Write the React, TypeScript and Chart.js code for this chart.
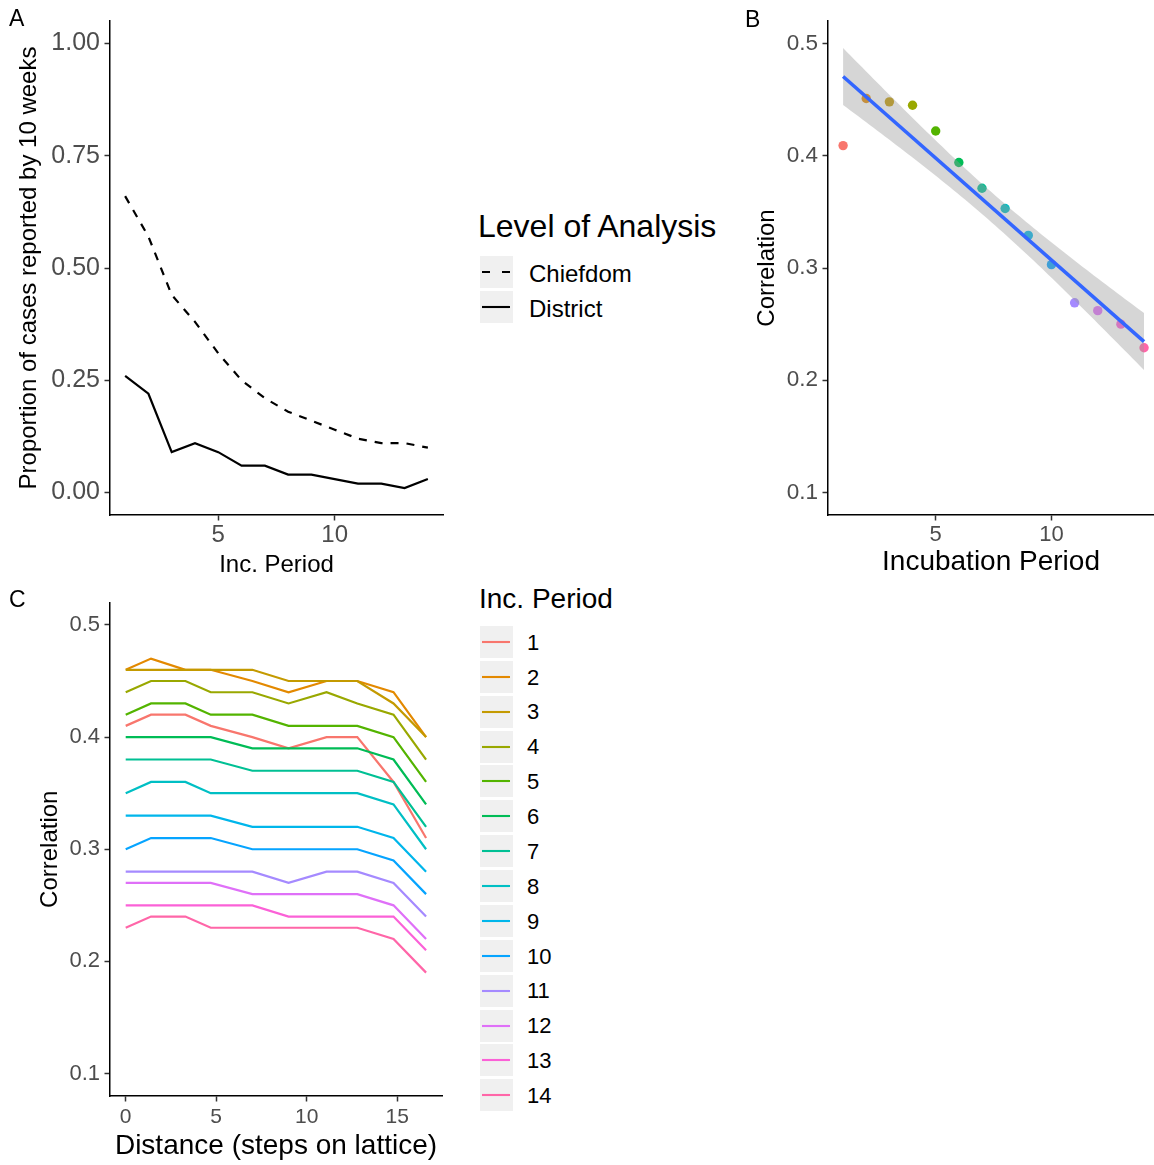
import React, { useEffect, useRef } from 'react';
import { Chart, registerables } from 'chart.js';

Chart.register(...registerables);

const FONT = '"Liberation Sans", Arial, Helvetica, sans-serif';

// ---------- Panel A ----------
const INC_PERIOD = [1, 2, 3, 4, 5, 6, 7, 8, 9, 10, 11, 12, 13, 14];
const CHIEFDOM = [0.66, 0.57, 0.44, 0.38, 0.31, 0.25, 0.21, 0.18, 0.16, 0.14, 0.12, 0.11, 0.11, 0.1];
const DISTRICT = [0.26, 0.22, 0.09, 0.11, 0.09, 0.06, 0.06, 0.04, 0.04, 0.03, 0.02, 0.02, 0.01, 0.03];
const A_Y_TICKS = [0, 0.25, 0.5, 0.75, 1.0];
const A_X_TICKS = [5, 10];

// ---------- Panel B ----------
const MEAN_CORRELATION = [0.409, 0.451, 0.448, 0.445, 0.422, 0.394, 0.371, 0.353, 0.329, 0.303, 0.269, 0.262, 0.25, 0.229];
const B_Y_TICKS = [0.1, 0.2, 0.3, 0.4, 0.5];
const B_X_TICKS = [5, 10];

// ---------- Panel C ----------
const DISTANCE = [0, 1.4, 3.3, 4.7, 7.0, 9.0, 11.1, 12.8, 14.8, 16.6];
const C_INC_1 = [0.41, 0.42, 0.42, 0.41, 0.40, 0.39, 0.40, 0.40, 0.36, 0.31];
const C_INC_2 = [0.46, 0.47, 0.46, 0.46, 0.45, 0.44, 0.45, 0.45, 0.44, 0.40];
const C_INC_3 = [0.46, 0.46, 0.46, 0.46, 0.46, 0.45, 0.45, 0.45, 0.43, 0.40];
const C_INC_4 = [0.44, 0.45, 0.45, 0.44, 0.44, 0.43, 0.44, 0.43, 0.42, 0.38];
const C_INC_5 = [0.42, 0.43, 0.43, 0.42, 0.42, 0.41, 0.41, 0.41, 0.40, 0.36];
const C_INC_6 = [0.40, 0.40, 0.40, 0.40, 0.39, 0.39, 0.39, 0.39, 0.38, 0.34];
const C_INC_7 = [0.38, 0.38, 0.38, 0.38, 0.37, 0.37, 0.37, 0.37, 0.36, 0.32];
const C_INC_8 = [0.35, 0.36, 0.36, 0.35, 0.35, 0.35, 0.35, 0.35, 0.34, 0.30];
const C_INC_9 = [0.33, 0.33, 0.33, 0.33, 0.32, 0.32, 0.32, 0.32, 0.31, 0.28];
const C_INC_10 = [0.30, 0.31, 0.31, 0.31, 0.30, 0.30, 0.30, 0.30, 0.29, 0.26];
const C_INC_11 = [0.28, 0.28, 0.28, 0.28, 0.28, 0.27, 0.28, 0.28, 0.27, 0.24];
const C_INC_12 = [0.27, 0.27, 0.27, 0.27, 0.26, 0.26, 0.26, 0.26, 0.25, 0.22];
const C_INC_13 = [0.25, 0.25, 0.25, 0.25, 0.25, 0.24, 0.24, 0.24, 0.24, 0.21];
const C_INC_14 = [0.23, 0.24, 0.24, 0.23, 0.23, 0.23, 0.23, 0.23, 0.22, 0.19];
const C_SERIES = [C_INC_1, C_INC_2, C_INC_3, C_INC_4, C_INC_5, C_INC_6, C_INC_7, C_INC_8, C_INC_9, C_INC_10, C_INC_11, C_INC_12, C_INC_13, C_INC_14];
const C_LABELS = ['1', '2', '3', '4', '5', '6', '7', '8', '9', '10', '11', '12', '13', '14'];
const C_Y_TICKS = [0.1, 0.2, 0.3, 0.4, 0.5];
const C_X_TICKS = [0, 5, 10, 15];

const HUES = ['#F8766D', '#E38900', '#C49A00', '#99A800', '#53B400', '#00BC56', '#00C094', '#00BFC4', '#00B6EB', '#06A4FF', '#A58AFF', '#DF70F8', '#FB61D7', '#FF66A8'];

// ---------- helpers ----------
function zeroPad(s: any) {
  s.paddingTop = 0;
  s.paddingBottom = 0;
  s.paddingLeft = 0;
  s.paddingRight = 0;
}

function xAxis(o: any) {
  return {
    type: 'linear',
    position: 'bottom',
    min: o.min,
    max: o.max,
    afterBuildTicks: (s: any) => { s.ticks = o.ticks.map((v: number) => ({ value: v })); },
    afterFit: (s: any) => { s.height = o.height; zeroPad(s); },
    border: { display: true, color: '#000', width: 1.5 },
    grid: { drawOnChartArea: false, drawTicks: true, tickLength: 5.5, tickWidth: 1.5, tickColor: '#333', color: '#333' },
    ticks: { color: '#4D4D4D', font: { size: o.tickSize, family: FONT }, padding: o.tickPad, autoSkip: false, maxRotation: 0, callback: (v: any) => String(v) },
    title: { display: true, text: o.title, color: '#000', font: { size: o.titleSize, family: FONT }, padding: { top: 0, bottom: o.titlePad } },
  };
}

function yAxis(o: any) {
  return {
    type: 'linear',
    position: 'left',
    min: o.min,
    max: o.max,
    afterBuildTicks: (s: any) => { s.ticks = o.ticks.map((v: number) => ({ value: v })); },
    afterFit: (s: any) => { s.width = o.width; zeroPad(s); },
    border: { display: true, color: '#000', width: 1.5 },
    grid: { drawOnChartArea: false, drawTicks: true, tickLength: 5.5, tickWidth: 1.5, tickColor: '#333', color: '#333' },
    ticks: { color: '#4D4D4D', font: { size: o.tickSize, family: FONT }, padding: 4.5, autoSkip: false, callback: (v: any) => Number(v).toFixed(o.digits) },
    title: { display: true, text: o.title, color: '#000', font: { size: o.titleSize, family: FONT }, padding: { top: o.titlePad, bottom: 0 } },
  };
}

function baseOptions(padding: any, scales: any) {
  return {
    responsive: false,
    animation: false,
    devicePixelRatio: 1,
    events: [],
    layout: { padding, autoPadding: false },
    plugins: { legend: { display: false }, tooltip: { enabled: false } },
    scales,
  };
}

function makeA() {
  return {
    type: 'line',
    data: {
      datasets: [
        { label: 'Chiefdom', data: INC_PERIOD.map((x, i) => ({ x, y: CHIEFDOM[i] })), borderColor: '#000', borderWidth: 2.2, borderDash: [8, 8], pointRadius: 0, fill: false, tension: 0 },
        { label: 'District', data: INC_PERIOD.map((x, i) => ({ x, y: DISTRICT[i] })), borderColor: '#000', borderWidth: 2.2, pointRadius: 0, fill: false, tension: 0 },
      ],
    },
    options: baseOptions({ left: 0, top: 21, right: 17, bottom: 0 }, {
      x: xAxis({ min: 0.35, max: 14.65, ticks: A_X_TICKS, height: 75, tickSize: 24, tickPad: 0, title: 'Inc. Period', titleSize: 24, titlePad: 10.6 }),
      y: yAxis({ min: -0.05, max: 1.05, ticks: A_Y_TICKS, width: 110, tickSize: 25, digits: 2, title: 'Proportion of cases reported by 10 weeks', titleSize: 24, titlePad: 14.6 }),
    }),
  };
}

function makeB() {
  const n = INC_PERIOD.length;
  const mx = INC_PERIOD.reduce((a, b) => a + b, 0) / n;
  const my = MEAN_CORRELATION.reduce((a, b) => a + b, 0) / n;
  let sxx = 0, sxy = 0;
  INC_PERIOD.forEach((x, i) => { sxx += (x - mx) ** 2; sxy += (x - mx) * (MEAN_CORRELATION[i] - my); });
  const slope = sxy / sxx;
  const icpt = my - slope * mx;
  let sse = 0;
  INC_PERIOD.forEach((x, i) => { sse += (MEAN_CORRELATION[i] - (icpt + slope * x)) ** 2; });
  const s = Math.sqrt(sse / (n - 2));
  const tq = 2.1788; // t(0.975, df = 12)
  const xs: number[] = [];
  for (let k = 0; k < 80; k++) xs.push(1 + (13 * k) / 79);
  const fit = (x: number) => icpt + slope * x;
  const se = (x: number) => s * Math.sqrt(1 / n + (x - mx) ** 2 / sxx);
  return {
    type: 'line',
    data: {
      datasets: [
        { label: 'points', data: INC_PERIOD.map((x, i) => ({ x, y: MEAN_CORRELATION[i] })), showLine: false, pointRadius: 4.7, pointBorderWidth: 0, pointBackgroundColor: HUES, pointBorderColor: HUES, order: 2 },
        { label: 'upper', data: xs.map((x) => ({ x, y: fit(x) + tq * se(x) })), borderColor: 'transparent', borderWidth: 0, pointRadius: 0, fill: '+1', backgroundColor: 'rgba(153,153,153,0.4)', order: 1, tension: 0 },
        { label: 'lower', data: xs.map((x) => ({ x, y: fit(x) - tq * se(x) })), borderColor: 'transparent', borderWidth: 0, pointRadius: 0, fill: false, order: 1, tension: 0 },
        { label: 'fit', data: [1, 14].map((x) => ({ x, y: fit(x) })), borderColor: '#3366FF', borderWidth: 3.6, pointRadius: 0, fill: false, order: 0 },
      ],
    },
    options: baseOptions({ left: 0, top: 21, right: 0, bottom: 0 }, {
      x: xAxis({ min: 0.348, max: 14.43, ticks: B_X_TICKS, height: 75, tickSize: 22, tickPad: 1.5, title: 'Incubation Period', titleSize: 28, titlePad: 10.5 }),
      y: yAxis({ min: 0.08, max: 0.52, ticks: B_Y_TICKS, width: 108, tickSize: 22.5, digits: 1, title: 'Correlation', titleSize: 24, titlePad: 32.6 }),
    }),
  };
}

function makeC() {
  return {
    type: 'line',
    data: {
      datasets: C_SERIES.map((arr, i) => ({
        label: C_LABELS[i],
        data: DISTANCE.map((x, j) => ({ x, y: arr[j] })),
        borderColor: HUES[i],
        borderWidth: 2.2,
        pointRadius: 0,
        fill: false,
        tension: 0,
        order: C_SERIES.length - 1 - i,
      })),
    },
    options: baseOptions({ left: 0, top: 12.5, right: 18, bottom: 0 }, {
      x: xAxis({ min: -0.868, max: 17.48, ticks: C_X_TICKS, height: 69, tickSize: 21, tickPad: 3, title: 'Distance (steps on lattice)', titleSize: 28, titlePad: 2 }),
      y: yAxis({ min: 0.08, max: 0.52, ticks: C_Y_TICKS, width: 110, tickSize: 22, digits: 1, title: 'Correlation', titleSize: 24, titlePad: 35.6 }),
    }),
  };
}

function ChartCanvas({ make, left, top, width, height }: { make: () => any; left: number; top: number; width: number; height: number }) {
  const ref = useRef<HTMLCanvasElement | null>(null);
  useEffect(() => {
    const chart = new Chart(ref.current as HTMLCanvasElement, make());
    return () => chart.destroy();
  }, []);
  return (
    <canvas ref={ref} width={width} height={height} style={{ position: 'absolute', left, top, width, height }} />
  );
}

function Txt({ x, cy, size, children }: { x: number; cy: number; size: number; children: any }) {
  return (
    <div style={{ position: 'absolute', left: x, top: cy - 0.4885 * size, fontSize: size, lineHeight: 1, fontFamily: FONT, whiteSpace: 'nowrap', color: '#000' }}>
      {children}
    </div>
  );
}

function Key({ x, y, w, h, color, dash }: { x: number; y: number; w: number; h: number; color: string; dash?: string }) {
  return (
    <svg width={w} height={h} style={{ position: 'absolute', left: x, top: y, background: '#F0F0F0' }}>
      <line x1={2} x2={w - 3} y1={h / 2} y2={h / 2} stroke={color} strokeWidth={2.1} strokeDasharray={dash} />
    </svg>
  );
}

export default function App() {
  const legendATop = [256, 291];
  const legendALabels = ['Chiefdom', 'District'];
  return (
    <div style={{ position: 'absolute', left: 0, top: 0, width: 1154, height: 1165, overflow: 'hidden', background: '#fff' }}>
      <ChartCanvas make={makeA} left={0} top={0} width={460} height={590} />
      <ChartCanvas make={makeB} left={720} top={0} width={434} height={590} />
      <ChartCanvas make={makeC} left={0} top={590} width={460} height={575} />

      <Txt x={9} cy={18} size={23}>A</Txt>
      <Txt x={745} cy={19} size={23}>B</Txt>
      <Txt x={9} cy={599} size={23}>C</Txt>

      <Txt x={478} cy={226} size={32}>Level of Analysis</Txt>
      {legendALabels.map((lab, i) => (
        <React.Fragment key={lab}>
          <Key x={480} y={legendATop[i]} w={33} h={32} color="#000" dash={i === 0 ? '8 12' : undefined} />
          <Txt x={529} cy={legendATop[i] + 17.5} size={24}>{lab}</Txt>
        </React.Fragment>
      ))}

      <Txt x={479} cy={599} size={28}>Inc. Period</Txt>
      {C_LABELS.map((lab, i) => {
        const top = 626 + i * 34.87;
        return (
          <React.Fragment key={lab}>
            <Key x={480} y={top} w={33} h={32} color={HUES[i]} />
            <Txt x={527} cy={top + 16.5} size={22}>{lab}</Txt>
          </React.Fragment>
        );
      })}
    </div>
  );
}
